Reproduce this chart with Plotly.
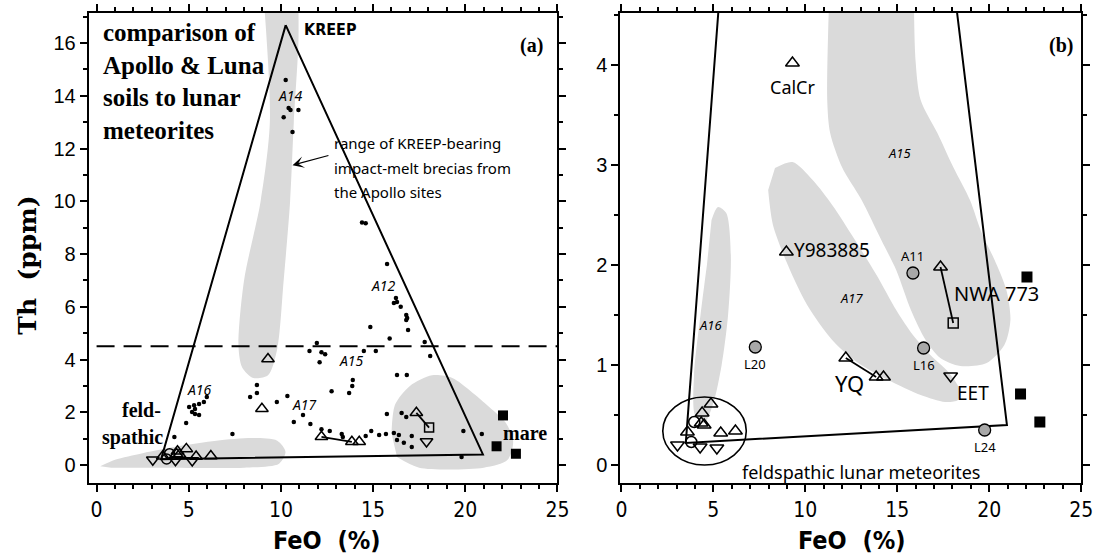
import plotly.graph_objects as go

# ---------------- data ----------------
# Apollo soils (small dots, panel a): FeO (%) and Th (ppm)
APOLLO_FEO = [10.26, 10.42, 10.52, 10.95, 10.15, 10.63,
              14.4, 14.6, 15.76, 16.24, 16.3, 16.13, 16.5, 16.8, 16.85, 16.8, 16.9, 14.85, 15.9, 17.8,
              11.95, 11.55, 12.2, 12.4, 12.1, 14.5, 15.15, 18.1, 16.3, 16.83, 13.9, 13.87, 13.7, 12.75,
              10.35, 11.2, 10.7, 11.6, 15.75, 16.55, 16.8, 12.2, 12.65, 13.3, 13.36, 14.9, 14.6, 15.33,
              15.7, 16.13, 16.4, 16.3, 16.67, 17.1, 17.1, 19.9, 20.9, 19.8,
              8.7, 8.7, 8.33, 9.78, 7.37, 5.98, 5.82, 5.56, 5.29, 5.02, 5.34, 5.18, 5.56, 5.34, 4.86, 4.22]
APOLLO_TH = [14.6, 13.54, 13.46, 13.46, 13.19, 12.63,
             9.2, 9.17, 7.62, 6.33, 6.18, 6.14, 6.0, 5.69, 5.57, 5.5, 5.12, 5.23, 4.8, 4.66,
             4.63, 4.32, 4.28, 4.2, 3.9, 4.32, 4.32, 4.13, 3.41, 3.41, 3.22, 3.0, 2.73, 2.8,
             2.62, 1.9, 1.63, 1.55, 1.93, 1.97, 1.82, 1.36, 1.29, 1.18, 1.06, 1.29, 1.10, 1.14,
             1.18, 1.21, 1.14, 0.95, 0.84, 1.10, 0.68, 1.29, 1.18, 0.30,
             3.03, 2.73, 2.58, 2.39, 1.18, 2.58, 2.39, 2.31, 2.27, 2.2, 2.12, 2.01, 1.9, 1.93, 1.59, 1.06]

# feldspathic lunar meteorites
FELD_UP_FEO = [4.87, 4.39, 4.34, 4.5, 3.59, 5.4, 6.2]
FELD_UP_TH = [0.61, 0.52, 0.42, 0.40, 0.33, 0.32, 0.34]
FELD_DOWN_FEO = [3.05, 4.28, 5.19]
FELD_DOWN_TH = [0.20, 0.18, 0.17]
FELD_CIRC_FEO = [3.96, 3.8]
FELD_CIRC_TH = [0.43, 0.23]

# named lunar meteorites
CALCR = (9.3, 4.02)
Y983885 = (8.97, 2.13)
YQ_FEO = [12.2, 13.85, 14.25]
YQ_TH = [1.07, 0.88, 0.88]
NWA773_TRI = (17.35, 1.98)
NWA773_SQ = (18.04, 1.42)
EET = (17.9, 0.89)

# Apollo 11 and Luna soils (grey circles, panel b)
SOIL_NAMES = ["A11", "L16", "L20", "L24"]
SOIL_FEO = [15.85, 16.43, 7.28, 19.75]
SOIL_TH = [1.92, 1.17, 1.18, 0.35]

# mare basaltic meteorites
MARE_FEO = [22.05, 21.7, 22.75]
MARE_TH = [1.88, 0.71, 0.43]

# three-component mixing triangle: KREEP, feldspathic, mare
MIX_FEO = [10.26, 3.5, 20.96, 10.26]
MIX_TH = [16.68, 0.22, 0.40, 16.68]
TH_CUT = 4.5

# soil fields (outlines)
KREEP_FIELD_FEO = [9.1, 9.4, 8.9, 8.0, 7.7, 7.9, 8.5, 9.3, 9.8, 10.15, 10.5, 10.7, 10.95, 10.95]
KREEP_FIELD_TH = [17.4, 13.0, 10.0, 7.0, 4.5, 3.7, 3.3, 3.4, 4.4, 7.0, 10.0, 13.0, 16.0, 17.4]
FELD_FIELD_FEO = [0.2, 1.0, 2.5, 4.5, 6.5, 8.5, 9.8, 10.25, 9.9, 8.0, 4.0, 0.8]
FELD_FIELD_TH = [-0.05, 0.2, 0.45, 0.72, 0.92, 1.02, 0.92, 0.5, 0.05, -0.1, -0.1, -0.1]
MARE_FIELD_FEO = [16.0, 16.2, 17.0, 18.2, 19.3, 20.3, 21.3, 22.2, 22.6, 22.3, 21.0, 17.5, 16.3]
MARE_FIELD_TH = [1.2, 2.3, 3.0, 3.4, 3.3, 2.8, 2.2, 1.6, 0.9, 0.2, -0.1, -0.1, 0.3]

A16_FIELD_FEO = [4.9, 5.25, 5.7, 5.95, 5.8, 5.45, 5.0, 4.5, 4.0, 3.95, 4.3, 4.65]
A16_FIELD_TH = [2.45, 2.58, 2.52, 2.1, 1.5, 1.0, 0.62, 0.42, 0.5, 0.9, 1.5, 2.0]
A17_FIELD_FEO = [8.35, 9.3, 10.4, 11.46, 12.63, 13.87, 14.94, 15.85, 16.8, 17.77, 18.4, 18.3,
                 17.6, 16.27, 14.5, 12.8, 11.46, 10.1, 9.05, 8.24, 7.98]
A17_FIELD_TH = [2.97, 3.03, 2.85, 2.6, 2.27, 1.9, 1.55, 1.3, 1.1, 0.93, 0.75, 0.65,
                0.63, 0.70, 0.85, 1.03, 1.25, 1.6, 2.0, 2.4, 2.75]
A15_FIELD_FEO = [11.3, 11.19, 11.35, 11.99, 13.06, 14.13, 14.94, 15.74, 16.54, 17.34, 18.42, 19.86,
                 20.82, 21.15, 20.93, 20.29, 19.59, 18.95, 18.04, 17.18, 16.27, 15.99, 15.9]
A15_FIELD_TH = [4.7, 3.65, 3.32, 2.98, 2.65, 2.25, 1.95, 1.55, 1.25, 1.07, 0.99, 1.02,
                1.2, 1.45, 1.75, 2.05, 2.32, 2.65, 2.98, 3.32, 3.65, 4.05, 4.7]

# ---------------- styling ----------------
W, H = 1108, 559
SERIF = "Liberation Serif, Times New Roman, serif"
WIDE_SERIF = "DejaVu Serif, serif"
NARROW = "Liberation Sans Narrow, DejaVu Sans Condensed, Arial Narrow, sans-serif"
SANS = "Liberation Sans, Arial, sans-serif"
HAND = "Noto Sans, Open Sans, sans-serif"
GREY_FIELD = "#dadada"
INK = "black"

fig = go.Figure()


def field(xs, ys, xa, ya):
    fig.add_trace(go.Scatter(x=xs, y=ys, mode="lines", fill="toself", fillcolor=GREY_FIELD,
                             line=dict(width=0, shape="spline", smoothing=0.8, color=GREY_FIELD),
                             hoverinfo="skip", xaxis=xa, yaxis=ya))


def pts(xs, ys, xa, ya, symbol, size, color=INK, line_w=1.5, line_color=INK):
    fig.add_trace(go.Scatter(x=xs, y=ys, mode="markers", xaxis=xa, yaxis=ya,
                             marker=dict(symbol=symbol, size=size, color=color,
                                         line=dict(width=line_w, color=line_color))))


def link(p, q, xa, ya):
    fig.add_trace(go.Scatter(x=[p[0], q[0]], y=[p[1], q[1]], mode="lines", xaxis=xa, yaxis=ya,
                             line=dict(color=INK, width=1.8), hoverinfo="skip"))


def meteorites(xa, ya, size):
    link((YQ_FEO[0], YQ_TH[0]), (YQ_FEO[1], YQ_TH[1]), xa, ya)
    link(NWA773_TRI, NWA773_SQ, xa, ya)
    up_x = FELD_UP_FEO + [CALCR[0], Y983885[0], NWA773_TRI[0]] + YQ_FEO
    up_y = FELD_UP_TH + [CALCR[1], Y983885[1], NWA773_TRI[1]] + YQ_TH
    pts(up_x, up_y, xa, ya, "triangle-up-open", size)
    pts(FELD_DOWN_FEO + [EET[0]], FELD_DOWN_TH + [EET[1]], xa, ya, "triangle-down-open", size)
    pts(FELD_CIRC_FEO, FELD_CIRC_TH, xa, ya, "circle-open", size - 1)
    pts([NWA773_SQ[0]], [NWA773_SQ[1]], xa, ya, "square-open", size - 2)
    pts(MARE_FEO, MARE_TH, xa, ya, "square", size - 1, line_w=0)


# ---- panel (a) ----
field(KREEP_FIELD_FEO, KREEP_FIELD_TH, "x", "y")
field(FELD_FIELD_FEO, FELD_FIELD_TH, "x", "y")
field(MARE_FIELD_FEO, MARE_FIELD_TH, "x", "y")
fig.add_trace(go.Scatter(x=MIX_FEO, y=MIX_TH, mode="lines", line=dict(color=INK, width=2),
                         xaxis="x", yaxis="y", hoverinfo="skip"))
fig.add_trace(go.Scatter(x=[0, 25], y=[TH_CUT, TH_CUT], mode="lines",
                         line=dict(color=INK, width=2, dash="18px,9px"), xaxis="x", yaxis="y"))
pts(APOLLO_FEO, APOLLO_TH, "x", "y", "circle", 4.5, line_w=0)
meteorites("x", "y", 11)

# ---- panel (b) ----
field(A16_FIELD_FEO, A16_FIELD_TH, "x2", "y2")
field(A17_FIELD_FEO, A17_FIELD_TH, "x2", "y2")
field(A15_FIELD_FEO, A15_FIELD_TH, "x2", "y2")
fig.add_trace(go.Scatter(x=MIX_FEO, y=MIX_TH, mode="lines", line=dict(color=INK, width=2),
                         xaxis="x2", yaxis="y2", hoverinfo="skip"))
meteorites("x2", "y2", 12)
pts(SOIL_FEO, SOIL_TH, "x2", "y2", "circle", 12, color="#a8a8a8", line_w=1.3)

# ellipse around the feldspathic meteorites
ELL_CX, ELL_CY, ELL_RX, ELL_RY = 4.52, 0.34, 2.27, 0.34
fig.add_shape(type="circle", xref="x2", yref="y2",
              x0=ELL_CX - ELL_RX, x1=ELL_CX + ELL_RX, y0=ELL_CY - ELL_RY, y1=ELL_CY + ELL_RY,
              line=dict(color=INK, width=1.6))

# ---------------- axes ----------------
# pixel layout of the two frames; the scales start a little outside zero so the
# axis lines stand off from the data, as in the printed figure
FRAME_TOP, FRAME_BOTTOM, ZERO_ROW = 13, 483, 465
A_LEFT, A_ZERO_COL, A_RIGHT = 85, 93, 561
B_LEFT, B_ZERO_COL, B_RIGHT = 625, 626, 1093
TH_MAX_A, TH_MAX_B = 17.14, 4.52
FEO_MAX = 25

ydom = [(H - FRAME_BOTTOM) / H, (H - FRAME_TOP) / H]


def y_range(top_val):
    per_px = top_val / (ZERO_ROW - FRAME_TOP)
    return [-(FRAME_BOTTOM - ZERO_ROW) * per_px, top_val]


def x_range(left, zero, right):
    per_px = FEO_MAX / (right - zero)
    return [-(zero - left) * per_px, FEO_MAX]


MINOR = dict(ticks="outside", ticklen=4, tickwidth=1.5, tickcolor=INK)


def base_axis(**kw):
    d = dict(showline=True, linewidth=2, linecolor=INK, mirror="ticks", ticks="outside",
             ticklen=7, tickwidth=2, tickcolor=INK, showgrid=False, zeroline=False)
    d.update(kw)
    return d


xtick_font = dict(family=NARROW, size=21, color=INK)
ytick_font = dict(family=SANS, size=20, color=INK)

fig.update_layout(
    width=W, height=H, margin=dict(l=0, r=0, t=0, b=0),
    paper_bgcolor="white", plot_bgcolor="white", showlegend=False,
    xaxis=base_axis(domain=[A_LEFT / W, A_RIGHT / W], range=x_range(A_LEFT, A_ZERO_COL, A_RIGHT),
                    anchor="y", dtick=5, tick0=0, tickfont=xtick_font,
                    minor=dict(dtick=1, **MINOR)),
    yaxis=base_axis(domain=ydom, range=y_range(TH_MAX_A), anchor="x", dtick=2, tick0=0,
                    tickfont=ytick_font, minor=dict(dtick=1, **MINOR)),
    xaxis2=base_axis(domain=[B_LEFT / W, B_RIGHT / W], range=x_range(B_LEFT, B_ZERO_COL, B_RIGHT),
                     anchor="y2", dtick=5, tick0=0, tickfont=xtick_font,
                     minor=dict(dtick=1, **MINOR)),
    yaxis2=base_axis(domain=ydom, range=y_range(TH_MAX_B), anchor="x2", dtick=1, tick0=0,
                     tickfont=ytick_font, minor=dict(dtick=0.5, **MINOR)),
)

# ---------------- text ----------------
ann = []


def txt(text, x, y, xref, yref, size, family=HAND, xanchor="center", yanchor="middle", **kw):
    ann.append(dict(text=text, x=x, y=y, xref=xref, yref=yref, showarrow=False,
                    font=dict(family=family, size=size, color=INK),
                    xanchor=xanchor, yanchor=yanchor, **kw))


# axis titles
for xc in (327 / W, 860 / W):
    txt("<b>FeO  (%)</b>", xc, (H - 540) / H, "paper", "paper", 25, family=NARROW)
txt("<b>Th  (ppm)</b>", 22 / W, (H - 265) / H, "paper", "paper", 25, family=WIDE_SERIF,
    textangle=-90)

# panel (a) labels
txt("<b>comparison of<br>Apollo &amp; Luna<br>soils to lunar<br>meteorites</b>", 0.25, 17.0,
    "x", "y", 25, family=SERIF, xanchor="left", yanchor="top", align="left")
txt("<b>(a)</b>", 23.6, 15.9, "x", "y", 20, family=SERIF)
txt("<b>KREEP</b>", 12.66, 16.5, "x", "y", 16, family=NARROW)
for lab, fx, ty in [("A14", 10.5, 14.0), ("A12", 15.55, 6.8), ("A15", 13.83, 3.98),
                    ("A17", 11.3, 2.3), ("A16", 5.6, 2.88)]:
    txt("<i>" + lab + "</i>", fx, ty, "x", "y", 14)
txt("<b>feld-</b>", 3.6, 2.08, "x", "y", 20, family=SERIF, xanchor="right")
txt("<b>spathic</b>", 3.7, 1.06, "x", "y", 20, family=SERIF, xanchor="right")
txt("<b>mare</b>", 23.24, 1.21, "x", "y", 20, family=SERIF)
for line_text, ty in [("range of KREEP-bearing", 12.2), ("impact-melt brecias from", 11.26),
                      ("the Apollo sites", 10.35)]:
    txt(line_text, 12.77, ty, "x", "y", 15, xanchor="left")
ann.append(dict(x=10.63, y=11.37, ax=12.66, ay=11.75, xref="x", yref="y", axref="x", ayref="y",
                showarrow=True, arrowhead=3, arrowsize=1.6, arrowwidth=1.2, arrowcolor=INK,
                text=""))

# panel (b) labels
txt("<b>(b)</b>", 23.9, 4.2, "x2", "y2", 20, family=SERIF)
txt("<i>A15</i>", 15.1, 3.12, "x2", "y2", 13)
txt("<i>A17</i>", 12.5, 1.67, "x2", "y2", 13)
txt("<i>A16</i>", 4.87, 1.4, "x2", "y2", 13)
for name, fx, ty in zip(SOIL_NAMES, SOIL_FEO, SOIL_TH):
    if name == "A11":
        txt(name, fx, ty, "x2", "y2", 13, yshift=17)
    else:
        txt(name, fx, ty, "x2", "y2", 13, yshift=-17)
txt("CalCr", CALCR[0], CALCR[1], "x2", "y2", 18, yshift=-24)
txt("Y983885", Y983885[0], Y983885[1], "x2", "y2", 19, xanchor="left", xshift=6, yshift=2)
txt("NWA 773", 20.4, 1.72, "x2", "y2", 20)
txt("YQ", 12.4, 0.82, "x2", "y2", 22)
txt("EET", 19.1, 0.72, "x2", "y2", 19)
txt("feldspathic lunar meteorites", 13.0, -0.07, "x2", "y2", 18)

fig.update_layout(annotations=ann)
fig.write_html("out.html")
